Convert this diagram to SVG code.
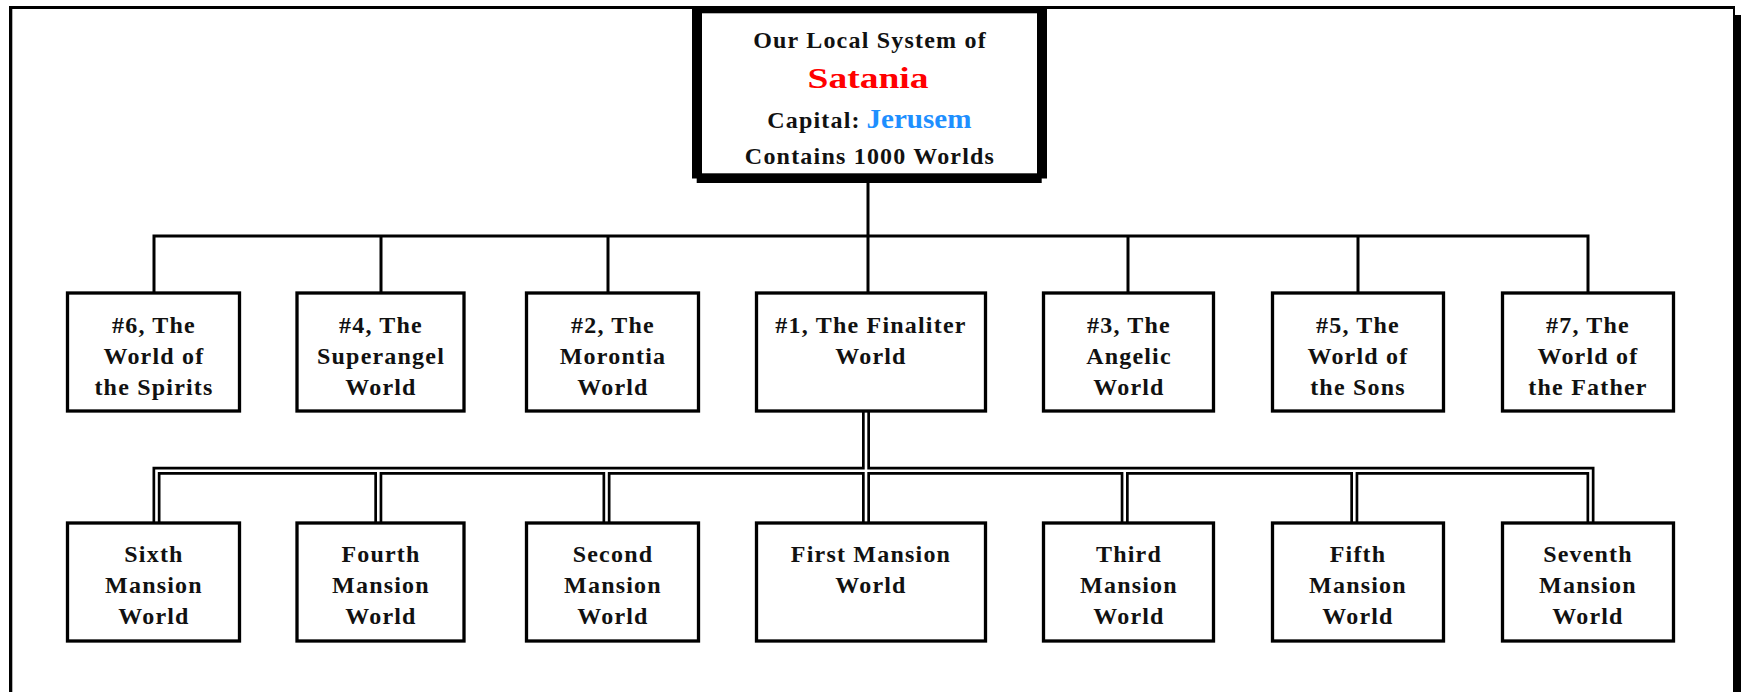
<svg xmlns="http://www.w3.org/2000/svg" width="1741" height="692" viewBox="0 0 1741 692">
<style>
.t{font-family:"Liberation Serif","Times New Roman",serif;font-weight:bold;font-size:24px;letter-spacing:1.2px;fill:#111;text-anchor:middle}
.box{fill:#fff;stroke:#000;stroke-width:3.3}
.single{fill:none;stroke:#000;stroke-width:3}
.dblo{fill:none;stroke:#000;stroke-width:8;stroke-linejoin:miter}
.dbli{fill:none;stroke:#fff;stroke-width:2.6;stroke-linejoin:miter}
</style>
<rect x="0" y="0" width="1741" height="692" fill="#fff"/>
<g id="frame">
<rect x="9" y="6" width="1726" height="3" fill="#000"/>
<rect x="9" y="6" width="3.3" height="686" fill="#000"/>
<rect x="1733" y="6" width="2" height="686" fill="#000"/>
<rect x="1735" y="15" width="6" height="677" fill="#000"/>
</g>
<g id="connectors">
<path class="single" d="M868 183V236M154 292V236H1588V292M381 236V292M608 236V292M868 236V292M1128 236V292M1358 236V292"/>
<path class="dblo" d="M866 412V522M156.5 522V470.7H1590.5V522M378.3 470.7V522M606.5 470.7V522M1124.7 470.7V522M1354.3 470.7V522"/>
<path class="dbli" d="M866 412V522M156.5 522V470.7H1590.5V522M378.3 470.7V522M606.5 470.7V522M1124.7 470.7V522M1354.3 470.7V522"/>
</g>
<g id="system">
<rect x="692" y="6" width="355" height="172.5" fill="#000"/>
<rect x="696.7" y="177" width="345" height="6" fill="#000"/>
<rect x="702" y="13.3" width="335" height="160" fill="#fff"/>
<text class="t" x="870" y="48">Our Local System of</text>
<text x="868" y="88" font-family="'Liberation Serif',serif" font-weight="bold" font-size="30" fill="#ff0000" text-anchor="middle" textLength="121" lengthAdjust="spacingAndGlyphs">Satania</text>
<text x="814" y="128" class="t">Capital:</text>
<text x="919" y="128" font-family="'Liberation Serif',serif" font-weight="bold" font-size="27" fill="#1e8fff" text-anchor="middle" textLength="105" lengthAdjust="spacingAndGlyphs">Jerusem</text>
<text class="t" x="870" y="164">Contains 1000 Worlds</text>
</g>
<g id="w6"><rect class="box" x="67.5" y="293" width="172" height="118"/><text class="t" x="154" y="333">#6, The</text><text class="t" x="154" y="364">World of</text><text class="t" x="154" y="395">the Spirits</text></g>
<g id="w4"><rect class="box" x="297" y="293" width="167" height="118"/><text class="t" x="381" y="333">#4, The</text><text class="t" x="381" y="364">Superangel</text><text class="t" x="381" y="395">World</text></g>
<g id="w2"><rect class="box" x="526.5" y="293" width="172" height="118"/><text class="t" x="613" y="333">#2, The</text><text class="t" x="613" y="364">Morontia</text><text class="t" x="613" y="395">World</text></g>
<g id="w1"><rect class="box" x="756.5" y="293" width="229" height="118"/><text class="t" x="871" y="333">#1, The Finaliter</text><text class="t" x="871" y="364">World</text></g>
<g id="w3"><rect class="box" x="1043.5" y="293" width="170" height="118"/><text class="t" x="1129" y="333">#3, The</text><text class="t" x="1129" y="364">Angelic</text><text class="t" x="1129" y="395">World</text></g>
<g id="w5"><rect class="box" x="1272.5" y="293" width="171" height="118"/><text class="t" x="1358" y="333">#5, The</text><text class="t" x="1358" y="364">World of</text><text class="t" x="1358" y="395">the Sons</text></g>
<g id="w7"><rect class="box" x="1502.5" y="293" width="171" height="118"/><text class="t" x="1588" y="333">#7, The</text><text class="t" x="1588" y="364">World of</text><text class="t" x="1588" y="395">the Father</text></g>
<g id="m6"><rect class="box" x="67.5" y="523" width="172" height="118"/><text class="t" x="154" y="562">Sixth</text><text class="t" x="154" y="593">Mansion</text><text class="t" x="154" y="624">World</text></g>
<g id="m4"><rect class="box" x="297" y="523" width="167" height="118"/><text class="t" x="381" y="562">Fourth</text><text class="t" x="381" y="593">Mansion</text><text class="t" x="381" y="624">World</text></g>
<g id="m2"><rect class="box" x="526.5" y="523" width="172" height="118"/><text class="t" x="613" y="562">Second</text><text class="t" x="613" y="593">Mansion</text><text class="t" x="613" y="624">World</text></g>
<g id="m1"><rect class="box" x="756.5" y="523" width="229" height="118"/><text class="t" x="871" y="562">First Mansion</text><text class="t" x="871" y="593">World</text></g>
<g id="m3"><rect class="box" x="1043.5" y="523" width="170" height="118"/><text class="t" x="1129" y="562">Third</text><text class="t" x="1129" y="593">Mansion</text><text class="t" x="1129" y="624">World</text></g>
<g id="m5"><rect class="box" x="1272.5" y="523" width="171" height="118"/><text class="t" x="1358" y="562">Fifth</text><text class="t" x="1358" y="593">Mansion</text><text class="t" x="1358" y="624">World</text></g>
<g id="m7"><rect class="box" x="1502.5" y="523" width="171" height="118"/><text class="t" x="1588" y="562">Seventh</text><text class="t" x="1588" y="593">Mansion</text><text class="t" x="1588" y="624">World</text></g>
</svg>
